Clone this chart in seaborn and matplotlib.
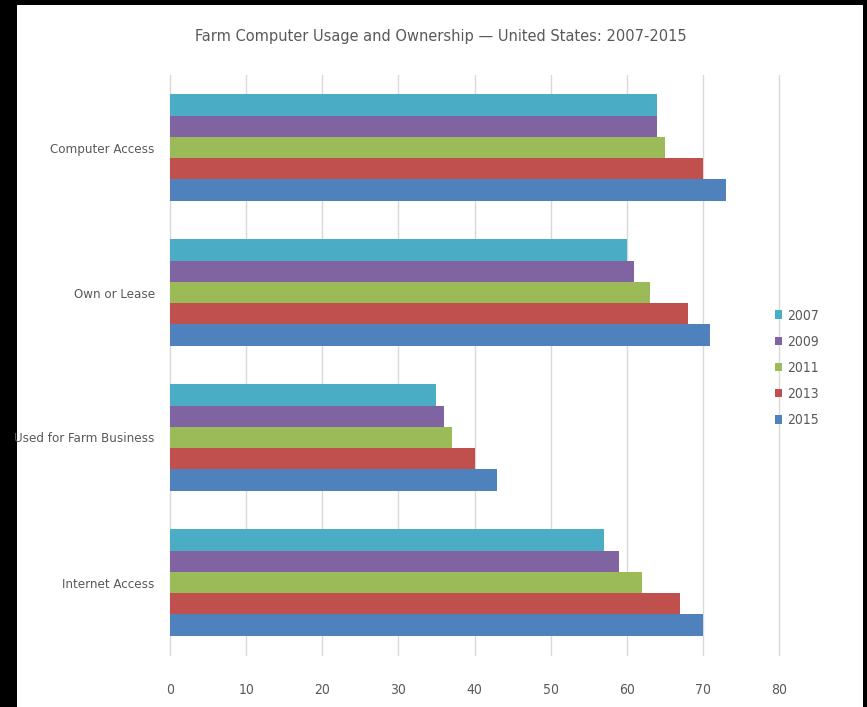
import matplotlib
matplotlib.use("Agg")
import matplotlib.pyplot as plt
import matplotlib.patches as mpatches
import seaborn as sns
import pandas as pd

# data
categories = ["Computer Access", "Own or Lease", "Used for Farm Business", "Internet Access"]
years = ["2007", "2009", "2011", "2013", "2015"]
values_2007 = [64, 60, 35, 57]
values_2009 = [64, 61, 36, 59]
values_2011 = [65, 63, 37, 62]
values_2013 = [70, 68, 40, 67]
values_2015 = [73, 71, 43, 70]
colors = ["#4BACC6", "#8064A2", "#9BBB59", "#C0504D", "#4F81BD"]

series = [values_2007, values_2009, values_2011, values_2013, values_2015]
rows = []
for year, vals in zip(years, series):
    for cat, v in zip(categories, vals):
        rows.append({"Category": cat, "Year": year, "Value": v})
df = pd.DataFrame(rows)

sns.set_style("white")
plt.rcParams["font.family"] = ["DejaVu Sans"]
plt.rcParams["font.stretch"] = "condensed"
text_color = "#595959"

fig = plt.figure(figsize=(8.67, 7.07), dpi=100, facecolor="black")
# white panel inside the black frame
fig.patches.append(mpatches.Rectangle((17 / 867, 0), (863 - 17) / 867, 1 - 5 / 707,
                                      transform=fig.transFigure, facecolor="white",
                                      edgecolor="none", zorder=-5))

ax = fig.add_axes([170 / 867, 1 - 655 / 707, (779 - 170) / 867, (655 - 75) / 707])
ax.set_facecolor("none")

sns.barplot(data=df, x="Value", y="Category", hue="Year", hue_order=years,
            order=categories, palette=colors, orient="h", width=0.735,
            saturation=1, linewidth=0, ax=ax, legend=True)

ax.set_xlim(0, 80)
ax.set_xticks(range(0, 81, 10))
ax.set_ylim(3.5, -0.5)
ax.grid(axis="x", color="#D9D9D9", linewidth=1)
for gl in ax.get_xgridlines():
    gl.set_clip_on(False)
ax.set_axisbelow(True)
for s in ax.spines.values():
    s.set_visible(False)
ax.set_xlabel("")
ax.set_ylabel("")
ax.tick_params(axis="x", length=0, pad=20, labelsize=10, labelcolor=text_color)
ax.tick_params(axis="y", length=0, pad=11, labelsize=9.5, labelcolor=text_color)

handles, labels = ax.get_legend_handles_labels()
ax.legend_.remove()
fig.legend(handles, labels, loc="center left", bbox_to_anchor=(762 / 867, 1 - 368 / 707),
           frameon=False, fontsize=10, labelcolor=text_color, handlelength=0.55,
           handleheight=0.55, handletextpad=0.35, labelspacing=0.88)

fig.text(441 / 867, 1 - 37 / 707, "Farm Computer Usage and Ownership \u2014 United States: 2007-2015",
         ha="center", va="center", fontsize=11.7, color=text_color)

fig.savefig("out.png", dpi=100, facecolor="black")
